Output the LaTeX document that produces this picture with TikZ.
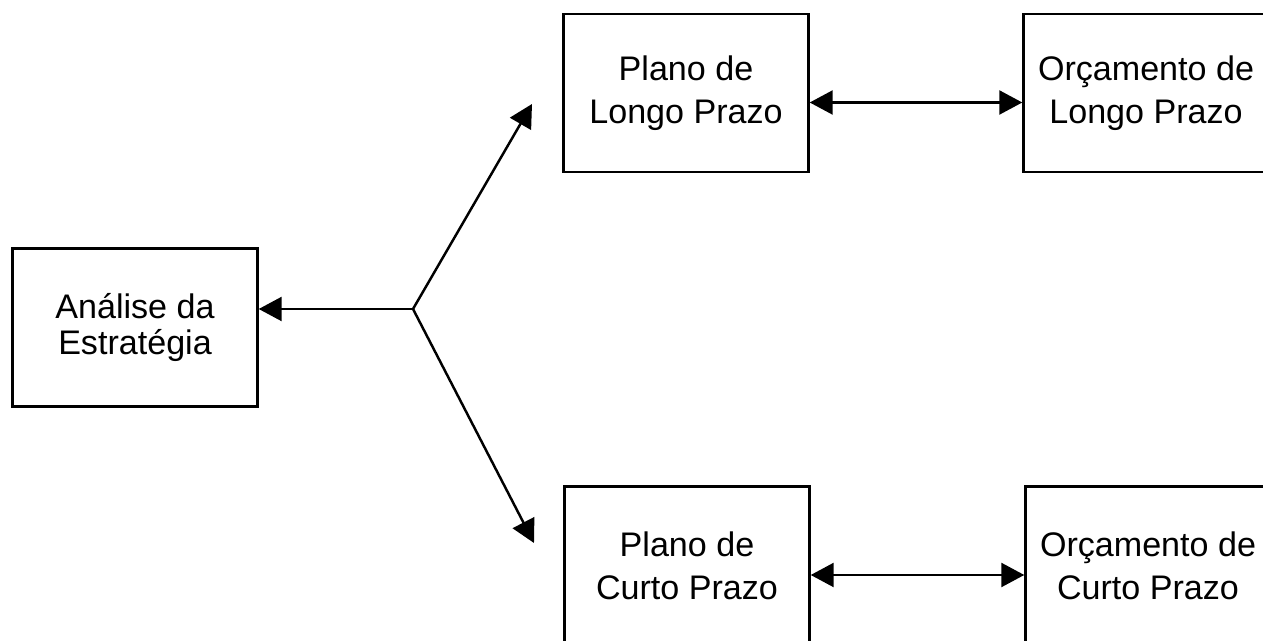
\documentclass[tikz,border=0pt]{standalone}
\usepackage{fontspec}
\setmainfont{Liberation Sans}
\usetikzlibrary{arrows.meta}

\begin{document}
\begin{tikzpicture}[
    box/.style={draw, line width=1.4pt, minimum width=4.9cm, minimum height=3.16cm,
        inner sep=0pt, align=center, font=\fontsize{19.4}{24.5}\selectfont},
    link/.style={line width=1.4pt, -{Triangle[length=0.46cm,width=0.48cm]}},
    both/.style={line width=1.4pt, {Triangle[length=0.46cm,width=0.48cm]}-{Triangle[length=0.46cm,width=0.48cm]}}
]
    \useasboundingbox (0,0) rectangle (25.26,12.82);

    % Strategy box on the left
    \node[box, font=\fontsize{19.4}{20.5}\selectfont] (analise) at (2.70,6.27) {Análise da\\Estratégia};

    % Long term row
    \node[box] (planoL) at (13.72,10.96) {Plano de\\Longo Prazo};
    \node[box] (orcL) at (22.92,10.96) {Orçamento de\\Longo Prazo};

    % Short term row (runs off the bottom)
    \node[box] (planoC) at (13.74,1.51) {Plano de\\Curto Prazo};
    \node[box] (orcC) at (22.96,1.51) {Orçamento de\\Curto Prazo};

    % Branch point and free arrow ends
    \coordinate (split) at (8.26,6.64);
    \coordinate (tipL) at (10.64,10.74);
    \coordinate (tipC) at (10.68,1.96);

    \draw[link] (split) -- (split -| analise.east);
    \draw[link] (split) -- (tipL);
    \draw[link] (split) -- (tipC);

    % Plan <-> budget
    \draw[both] ([yshift=-0.19cm]planoL.east) -- ([yshift=-0.19cm]orcL.west);
    \draw[both] ([yshift=-0.19cm]planoC.east) -- ([yshift=-0.19cm]orcC.west);

\end{tikzpicture}
\end{document}
